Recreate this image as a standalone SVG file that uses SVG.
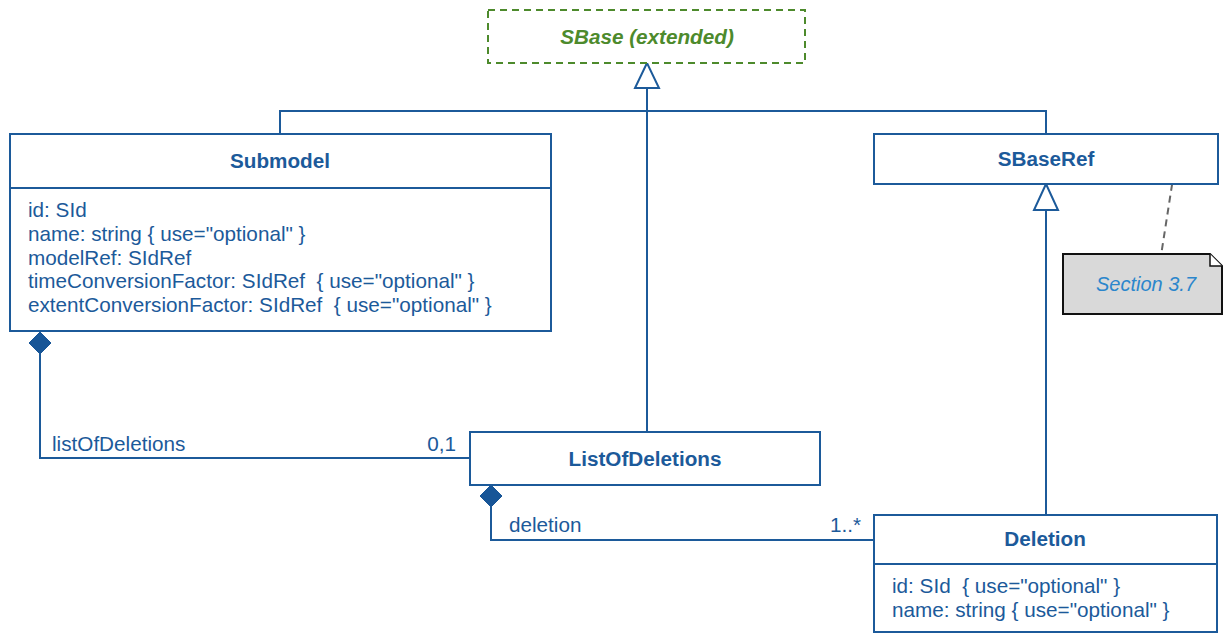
<svg xmlns="http://www.w3.org/2000/svg" width="1225" height="633" viewBox="0 0 1225 633">
<style>
.box{fill:#fff;stroke:#1c5a9a;stroke-width:2}
.ln{fill:none;stroke:#1c5a9a;stroke-width:2}
.t{font-family:"Liberation Sans",Arial,sans-serif;font-size:20.7px;fill:#1c5a9a}
.b{font-weight:bold;text-anchor:middle}
.gen{fill:#fff;stroke:#1c5a9a;stroke-width:2}
.dia{fill:#175597;stroke:#175597;stroke-width:1}
</style>
<rect width="1225" height="633" fill="#fff"/>
<g id="connectors">
  <polyline class="ln" points="280,134 280,111 1046,111 1046,134"/>
  <line class="ln" x1="647" y1="88" x2="647" y2="432"/>
  <polygon class="gen" points="647,63 635,88 659,88"/>
  <line class="ln" x1="1046" y1="210" x2="1046" y2="515"/>
  <polygon class="gen" points="1046,184 1034,210 1058,210"/>
  <polyline class="ln" points="40,354 40,458 470,458"/>
  <polygon class="dia" points="40,332 51,343 40,354 29,343"/>
  <polyline class="ln" points="491,507 491,540 874,540"/>
  <polygon class="dia" points="491,485 502,496 491,507 480,496"/>
  <line x1="1174" y1="172" x2="1160" y2="262" stroke="#666" stroke-width="2" stroke-dasharray="7,5"/>
  <text class="t" x="52" y="451">listOfDeletions</text>
  <text class="t" x="456" y="451" text-anchor="end">0,1</text>
  <text class="t" x="509" y="532">deletion</text>
  <text class="t" x="861" y="532" text-anchor="end">1..*</text>
</g>
<g id="SBase">
  <rect x="488" y="10" width="317" height="53" fill="#fff" stroke="#4d8a2c" stroke-width="2" stroke-dasharray="7,5"/>
  <text class="t" x="647" y="44" text-anchor="middle" font-weight="bold" font-style="italic" style="fill:#4d8a2c">SBase (extended)</text>
</g>
<g id="Submodel">
  <rect class="box" x="10" y="134" width="541" height="197"/>
  <line class="ln" x1="10" y1="188" x2="551" y2="188"/>
  <text class="t b" x="280" y="168">Submodel</text>
  <text class="t" x="28" y="217">id: SId</text>
  <text class="t" x="28" y="241">name: string { use="optional" }</text>
  <text class="t" x="28" y="264.5">modelRef: SIdRef</text>
  <text class="t" x="28" y="288" xml:space="preserve">timeConversionFactor: SIdRef  { use="optional" }</text>
  <text class="t" x="28" y="311.5" xml:space="preserve">extentConversionFactor: SIdRef  { use="optional" }</text>
</g>
<g id="SBaseRef">
  <rect class="box" x="874" y="134" width="344" height="50"/>
  <text class="t b" x="1046" y="166">SBaseRef</text>
</g>
<g id="Note">
  <path d="M1063,254 H1210 L1222,266 V314 H1063 Z" fill="#d9d9d9" stroke="#111" stroke-width="2"/>
  <path d="M1210,254 V266 H1222" fill="#fff" stroke="#111" stroke-width="1.5"/>
  <text x="1146" y="291" text-anchor="middle" font-family="Liberation Sans, Arial, sans-serif" font-size="20" font-style="italic" fill="#2b86cc">Section 3.7</text>
</g>
<g id="ListOfDeletions">
  <rect class="box" x="470" y="432" width="350" height="53"/>
  <text class="t b" x="645" y="466">ListOfDeletions</text>
</g>
<g id="Deletion">
  <rect class="box" x="874" y="515" width="343" height="117"/>
  <line class="ln" x1="874" y1="564" x2="1217" y2="564"/>
  <text class="t b" x="1045" y="546">Deletion</text>
  <text class="t" x="892" y="593" xml:space="preserve">id: SId  { use="optional" }</text>
  <text class="t" x="892" y="616.5">name: string { use="optional" }</text>
</g>
</svg>
